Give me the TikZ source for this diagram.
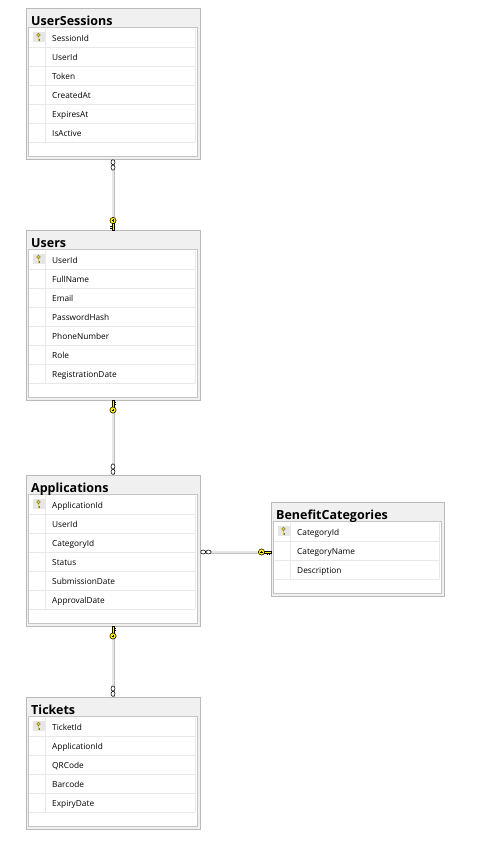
\documentclass[tikz,border=0pt]{standalone}
\usepackage{fontspec}
\setmainfont{Open Sans}
\definecolor{tblborder}{HTML}{BABABA}
\definecolor{tblfill}{HTML}{F0F0F0}
\definecolor{tblinner}{HTML}{C4C4C4}
\definecolor{rowline}{HTML}{E8E8E8}
\definecolor{pkbg}{HTML}{E6E6E6}
\definecolor{keyyellow}{HTML}{FFF200}
\definecolor{pkyellow}{HTML}{DCCB3A}
\definecolor{pkdark}{HTML}{7D7020}
\definecolor{connc}{HTML}{BEBEBE}
\definecolor{conni}{HTML}{E6E6E6}
\tikzset{
  tblbox/.style={draw=tblborder, fill=tblfill, line width=0.8pt, inner sep=0pt, outer sep=0pt, anchor=north west},
  innerbox/.style={draw=tblinner, fill=white, line width=0.7pt},
  rowsep/.style={draw=rowline, line width=0.7pt},
  titletext/.style={anchor=base west, inner sep=0pt, font=\bfseries\fontsize{12.5}{14}\selectfont},
  rowtext/.style={anchor=base west, inner sep=0pt, font=\fontsize{8.3}{10}\selectfont, text=black},
  conn/.style={draw=connc, line width=0.9pt, double=conni, double distance=1.2pt},
  bigkey/.pic={
    \filldraw[fill=keyyellow, draw=black, line width=0.5pt] (3,-1.1) rectangle (9.5,1.1);
    \draw[black, line width=0.5pt] (6,1.1)--(6,2.6) (8.2,1.1)--(8.2,2.6);
    \filldraw[fill=keyyellow, draw=black, line width=0.5pt] (0,0) circle (3.1);
    \draw[black, line width=0.45pt] (-1.3,0)--(1.3,0) (0,-1.3)--(0,1.3);
  },
  manymark/.pic={
    \filldraw[fill=white, draw=black, line width=0.55pt] (2.7,0) ellipse [x radius=2.6, y radius=2.0];
    \filldraw[fill=white, draw=black, line width=0.55pt] (8,0) ellipse [x radius=2.6, y radius=2.0];
  },
  pkkey/.pic={
    \fill[pkbg] (-5.5,-5) rectangle (6,5);
    \draw[pkdark, line width=1.3pt] (0,-1.2)--(0,3.6);
    \draw[pkyellow, line width=0.6pt] (0,-1.2)--(0,3.6);
    \draw[pkdark, line width=0.5pt] (0,1.8)--(1.3,1.8) (0,3.2)--(1.3,3.2);
    \filldraw[fill=pkyellow, draw=pkdark, line width=0.4pt] (0,-2) circle (1.9);
  }
}
% #1 name, #2 left, #3 top, #4 right, #5 number of rows, #6 title, #7 fields
\newcommand{\erdtable}[7]{%
  \pgfmathsetmacro\erdrowend{#3+20+19*#5}%
  \pgfmathsetmacro\erdw{#4-#2}%
  \pgfmathsetmacro\erdh{\erdrowend+17-#3}%
  \node[tblbox, minimum width=\erdw pt, minimum height=\erdh pt] (#1) at (#2,#3) {};
  \draw[innerbox] ({#2+2},{#3+19.5}) rectangle ({#4-3},{\erdrowend+14});
  \foreach \erdi in {1,...,#5} {
    \draw[rowsep] ({#2+3},{#3+20+19*\erdi}) -- ({#4-5},{#3+20+19*\erdi});
  }
  \draw[rowsep] ({#2+19},{#3+20.5}) -- ({#2+19},\erdrowend);
  \draw[rowsep] ({#4-5},{#3+20.5}) -- ({#4-5},\erdrowend);
  \pic at ({#2+12.5},{#3+29}) {pkkey};
  \node[titletext] (#1-title) at ({#2+5},{#3+17}) {#6};
  \foreach \erdf [count=\erdi] in {#7} {
    \node[rowtext] (#1-f\erdi) at ({#2+26},{#3+20+19*(\erdi-1)+13}) {\erdf};
  }
}
\begin{document}
\begin{tikzpicture}[x=1pt, y=-1pt]
\useasboundingbox (0,0) rectangle (478,846);
\fill[white] (0,0) rectangle (478,846);

\erdtable{us}{26}{8}{200}{6}{UserSessions}{SessionId,UserId,Token,CreatedAt,ExpiresAt,IsActive}
\erdtable{users}{26}{230}{200}{7}{Users}{UserId,FullName,Email,PasswordHash,PhoneNumber,Role,RegistrationDate}
\erdtable{app}{26}{475}{200}{6}{Applications}{ApplicationId,UserId,CategoryId,Status,SubmissionDate,ApprovalDate}
\erdtable{bc}{271}{502}{444}{3}{BenefitCategories}{CategoryId,CategoryName,Description}
\erdtable{tk}{26}{697}{200}{5}{Tickets}{TicketId,ApplicationId,QRCode,Barcode,ExpiryDate}

\coordinate (h) at (0,552);

\draw[conn] (us.south) -- (users.north);
\draw[conn] (users.south) -- (app.north);
\draw[conn] (app.east |- h) -- (bc.west |- h);
\draw[conn] (app.south) -- (tk.north);

\pic[rotate=-90] at ([yshift=-0.5pt]us.south) {manymark};
\pic[rotate=-90] at ([yshift=9.5pt]users.north) {bigkey};
\pic[rotate=90] at ([yshift=-10pt]users.south) {bigkey};
\pic[rotate=90] at ([yshift=0.5pt]app.north) {manymark};
\pic at ([xshift=0.5pt]app.east |- h) {manymark};
\pic at ([xshift=-9.5pt]bc.west |- h) {bigkey};
\pic[rotate=90] at ([yshift=-10pt]app.south) {bigkey};
\pic[rotate=90] at ([yshift=0.5pt]tk.north) {manymark};
\end{tikzpicture}
\end{document}
